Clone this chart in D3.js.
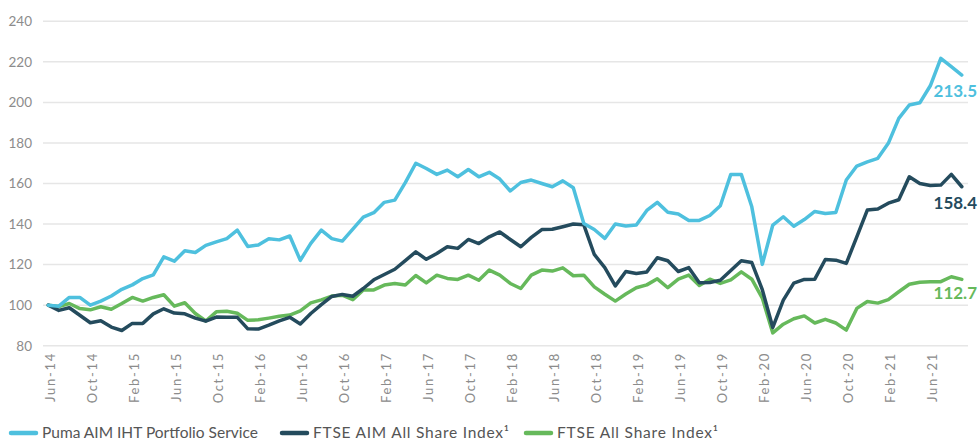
<!DOCTYPE html>
<html><head><meta charset="utf-8">
<script src="https://cdn.jsdelivr.net/npm/d3@7"></script>
<style>
html,body{margin:0;padding:0;background:#fff;}
svg{display:block;font-family:Lato,"Open Sans",sans-serif;}
</style></head>
<body><svg id="chart" width="979" height="441"></svg>
<script>
const startMonth = "2014-06";
const tickLabels = ["Jun-14","Oct-14","Feb-15","Jun-15","Oct-15","Feb-16","Jun-16","Oct-16","Feb-17","Jun-17","Oct-17","Feb-18","Jun-18","Oct-18","Feb-19","Jun-19","Oct-19","Feb-20","Jun-20","Oct-20","Feb-21","Jun-21"];
const yTicks = [80,100,120,140,160,180,200,220,240];
const seriesNames = ["Puma AIM IHT Portfolio Service","FTSE AIM All Share Index\u00b9","FTSE All Share Index\u00b9"];
const seriesColors = ["#4ec0de","#244b5d","#66b95b"];

const puma = [100,99.5,103.8,103.8,100,102,104.5,107.8,110,113.1,114.9,123.8,121.7,126.8,126,129.5,131.2,132.8,137,128.9,
  129.7,132.8,132.2,134.1,122.1,130.5,137,132.8,131.6,137.5,143.4,145.6,150.7,151.8,160.4,170,167.4,164.5,166.6,163.3,
  166.9,163.3,165.5,162.2,156.3,160.5,161.7,160,158.4,161.3,157.9,140.3,137.3,132.9,140,139,139.5,146.7,150.7,145.8,
  145,141.8,141.8,144.2,149,164.5,164.5,148.5,120.1,139.5,143.6,138.9,142.2,146.2,145.2,145.7,161.7,168.6,170.7,172.4,
  179.8,192.1,198.7,199.8,208.2,221.7,217.6,213.5];
const ftseAim = [100,97.4,98.7,95,91.3,92.3,89.2,87.5,91,91,95.7,98.2,96.1,95.7,93.6,92.1,94.1,94,94,88.3,
  88.2,90.1,92.2,94,90.7,95.9,100.3,104.3,105.3,104.4,108.2,112.5,115.1,117.7,122,126.3,122.6,125.5,128.8,128,
  132.4,130.4,133.7,136.1,132.4,128.8,133.4,137.3,137.4,138.7,140,139.6,125,118.5,109.5,116.6,115.6,116.4,123.4,121.9,
  116.6,118.5,111,111.2,112.3,117.1,121.9,121,107.6,89,102.5,110.9,112.7,112.8,122.5,122.2,120.6,133.7,146.9,147.4,
  150.3,152,163.3,160,159,159.2,164.5,158.4];
const ftseAll = [100,99.3,100.8,98.3,97.7,99.2,98,100.8,103.8,102,103.8,105.1,99.5,101.2,95.9,92.2,96.7,97,96,92.5,
  92.8,93.6,94.5,95.1,97.2,101.1,102.6,104.5,104.9,102.7,107.5,107.5,109.9,110.7,109.9,114.6,111,114.8,113.2,112.7,
  114.8,112.3,117.3,114.8,110.7,108.2,114.8,117.3,116.8,118.4,114.5,114.8,109,105.4,102,105.5,108.6,110,113,108.6,
  112.8,114.8,109.7,112.8,110.7,112.5,116.4,112.8,103.5,86.3,90.6,93.3,94.7,91.2,93,91.2,87.7,98.4,101.8,101,
  102.7,106.6,110.3,111.3,111.5,111.6,114,112.7];
const endLabels = ["213.5","158.4","112.7"];

const svg = d3.select("#chart");
const n = puma.length;
const x = d3.scaleLinear().domain([0, n - 1]).range([48.3, 961.8]);
const y = d3.scaleLinear().domain([80, 240]).range([345.7, 21.3]);

// gridlines
svg.append("g").selectAll("line").data(yTicks).join("line")
  .attr("x1", 43).attr("x2", 968)
  .attr("y1", d => y(d)).attr("y2", d => y(d))
  .attr("stroke", "#e6e6e6").attr("stroke-width", 1.5);

// y axis labels
const yAxis = d3.axisLeft(y).tickValues(yTicks).tickSize(0).tickPadding(0);
const gy = svg.append("g").attr("transform", "translate(32,0)").call(yAxis);
gy.select(".domain").remove();
gy.selectAll("text").attr("fill", "#8c8c8c").style("font-size", "13.5px").style("font-family", "Lato, sans-serif");

// x axis labels
const tickIdx = tickLabels.map((_, i) => i * 4);
const xAxis = d3.axisBottom(x).tickValues(tickIdx).tickFormat((d, i) => tickLabels[i]).tickSize(0);
const gx = svg.append("g").attr("transform", "translate(0,352)").call(xAxis);
gx.select(".domain").remove();
gx.selectAll("text")
  .attr("fill", "#8c8c8c").style("font-size", "13px").style("letter-spacing", "1.7px")
  .style("font-family", "Lato, sans-serif")
  .attr("text-anchor", "end").attr("transform", "rotate(-90)")
  .attr("x", 0).attr("y", 2).attr("dy", "0.35em");

// lines
const line = d3.line().x((d, i) => x(i)).y(d => y(d)).curve(d3.curveLinear);
const allSeries = [ftseAll, ftseAim, puma];
const allColors = [seriesColors[2], seriesColors[1], seriesColors[0]];
svg.append("g").selectAll("path").data(allSeries).join("path")
  .attr("d", line).attr("fill", "none")
  .attr("stroke", (d, i) => allColors[i]).attr("stroke-width", 3.5)
  .attr("stroke-linejoin", "round").attr("stroke-linecap", "round");

// end labels
const endY = [97, 209, 299];
svg.append("g").selectAll("text").data(endLabels).join("text")
  .attr("x", 977).attr("y", (d, i) => endY[i])
  .attr("text-anchor", "end").attr("fill", (d, i) => seriesColors[i])
  .style("font-size", "17px").style("font-weight", 700).style("font-family", "Lato, sans-serif")
  .text(d => d);

// legend
const legX = [9, 280, 524];
const legW = [216, 196, 161];
const leg = svg.append("g").selectAll("g").data(seriesNames).join("g")
  .attr("transform", (d, i) => `translate(${legX[i]},433)`);
leg.append("line").attr("x1", 2).attr("x2", 27).attr("y1", 0).attr("y2", 0)
  .attr("stroke", (d, i) => seriesColors[i]).attr("stroke-width", 4.5).attr("stroke-linecap", "round");
leg.append("text").attr("x", 33).attr("y", 0).attr("dy", "0.35em")
  .attr("fill", "#555").style("font-size", "15.5px").style("font-family", "Lato, sans-serif")
  .attr("textLength", (d, i) => legW[i]).attr("lengthAdjust", "spacing")
  .text(d => d);
</script></body></html>
